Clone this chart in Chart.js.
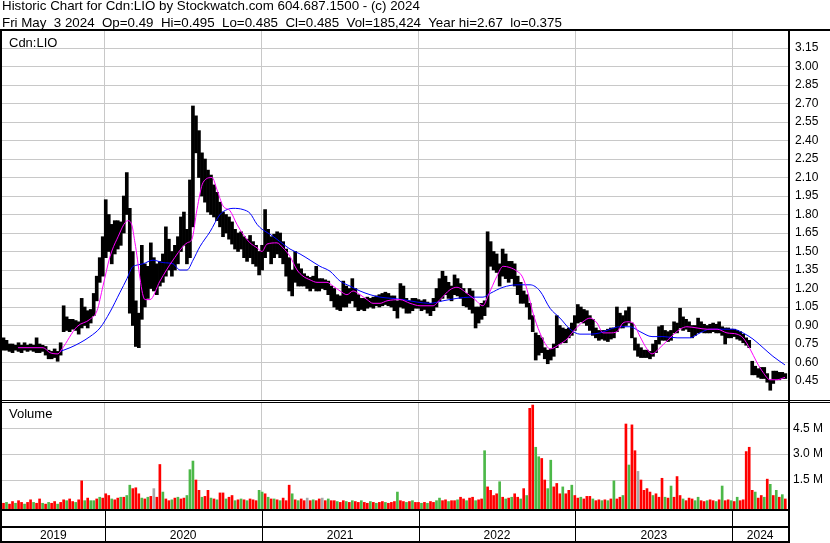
<!DOCTYPE html>
<html>
<head>
<meta charset="utf-8">
<script src="https://cdn.jsdelivr.net/npm/chart.js@4.4.1/dist/chart.umd.min.js"></script>
<style>
  body { margin: 0; background: #fff; font-family: "Liberation Sans", Arial, sans-serif; }
  #wrap { position: relative; width: 830px; height: 543px; overflow: hidden; }
  #chart { position: absolute; left: 0; top: 0; }
  #head { position: absolute; left: 2px; top: -2px; font-size: 13.33px; line-height: 16.5px; white-space: pre; color: #000; }
  .lbl { position: absolute; font-size: 13px; line-height: 13px; color: #000; }
</style>
</head>
<body>
<div id="wrap">
  <canvas id="chart" width="830" height="543"></canvas>
  <div id="head">Historic Chart for Cdn:LIO by Stockwatch.com 604.687.1500 - (c) 2024
Fri May  3 2024  Op=0.49  Hi=0.495  Lo=0.485  Cl=0.485  Vol=185,424  Year hi=2.67  lo=0.375</div>
  <div class="lbl" style="left:9px;top:35.5px">Cdn:LIO</div>
  <div class="lbl" style="left:9px;top:407px">Volume</div>
</div>
<script>
// weekly bars, first week starts early May 2019
const weekStart = 2019.355;
const weeksPerYear = 52.18;

const lows = [
  0.70,0.70,0.69,0.68,0.70,0.69,0.68,0.70,0.69,0.70,
  0.69,0.68,0.68,0.69,0.66,0.63,0.63,0.64,0.61,0.66,
  0.85,0.86,0.85,0.87,0.86,0.83,0.88,0.90,0.88,0.92,
  0.98,1.10,1.25,1.30,1.45,1.50,1.40,1.48,1.52,1.55,
  1.65,1.80,1.00,0.90,0.73,0.72,0.95,1.05,1.12,1.20,
  1.18,1.15,1.22,1.25,1.30,1.35,1.30,1.35,1.40,1.50,
  1.55,1.40,1.45,1.70,2.30,2.10,1.95,1.90,1.82,1.80,
  1.78,1.75,1.70,1.62,1.65,1.60,1.56,1.52,1.50,1.52,
  1.45,1.42,1.45,1.40,1.38,1.31,1.35,1.45,1.50,1.40,
  1.45,1.48,1.45,1.40,1.30,1.18,1.14,1.25,1.22,1.22,
  1.22,1.20,1.18,1.20,1.18,1.18,1.20,1.19,1.15,1.10,
  1.05,1.03,1.02,1.05,1.05,1.08,1.10,1.05,1.02,1.03,
  1.02,1.04,1.05,1.04,1.06,1.05,1.06,1.07,1.06,1.05,
  1.02,0.96,1.05,1.04,1.00,1.00,1.02,1.04,1.04,1.02,
  1.03,1.00,0.98,1.02,1.05,1.10,1.12,1.15,1.12,1.10,
  1.15,1.14,1.12,1.06,1.05,1.03,1.00,0.88,0.92,0.95,
  0.98,1.05,1.38,1.35,1.33,1.22,1.30,1.28,1.25,1.28,
  1.22,1.15,1.08,1.08,1.05,0.95,0.85,0.62,0.66,0.68,
  0.63,0.59,0.62,0.65,0.72,0.75,0.76,0.76,0.80,0.82,
  0.86,0.92,0.93,0.92,0.90,0.86,0.82,0.80,0.78,0.79,
  0.78,0.77,0.79,0.80,0.85,0.88,0.88,0.90,0.92,0.80,
  0.70,0.65,0.64,0.64,0.64,0.63,0.65,0.68,0.75,0.78,
  0.78,0.77,0.78,0.84,0.84,0.88,0.86,0.87,0.85,0.80,
  0.82,0.84,0.85,0.84,0.84,0.84,0.85,0.84,0.84,0.82,
  0.75,0.80,0.80,0.81,0.79,0.78,0.76,0.74,0.72,0.50,
  0.50,0.48,0.47,0.47,0.44,0.375,0.43,0.46,0.46,0.47,0.47
];
const highs = [
  0.80,0.78,0.75,0.75,0.74,0.76,0.74,0.76,0.74,0.75,
  0.74,0.80,0.75,0.74,0.73,0.70,0.69,0.71,0.69,0.76,
  1.06,0.97,0.95,0.95,0.94,0.93,1.12,1.05,1.02,1.03,
  1.16,1.30,1.45,1.62,1.92,1.80,1.72,1.75,1.75,1.74,
  1.95,2.14,1.85,1.50,1.10,1.00,1.55,1.40,1.38,1.57,
  1.45,1.40,1.42,1.48,1.70,1.60,1.50,1.55,1.62,1.78,
  1.82,1.68,2.08,2.68,2.60,2.48,2.30,2.25,2.16,2.12,
  2.04,1.98,1.90,1.82,1.80,1.78,1.74,1.68,1.65,1.66,
  1.62,1.60,1.63,1.58,1.55,1.50,1.55,1.84,1.68,1.62,
  1.64,1.66,1.65,1.58,1.52,1.45,1.35,1.50,1.40,1.36,
  1.32,1.30,1.29,1.30,1.38,1.28,1.28,1.27,1.26,1.22,
  1.20,1.15,1.14,1.26,1.22,1.20,1.28,1.20,1.15,1.12,
  1.12,1.13,1.12,1.13,1.14,1.15,1.16,1.17,1.16,1.14,
  1.14,1.10,1.24,1.22,1.12,1.10,1.12,1.12,1.11,1.10,
  1.11,1.09,1.08,1.12,1.20,1.28,1.34,1.30,1.25,1.22,
  1.31,1.28,1.24,1.20,1.16,1.20,1.18,1.05,1.05,1.08,
  1.10,1.66,1.58,1.50,1.48,1.40,1.52,1.48,1.42,1.42,
  1.40,1.30,1.25,1.18,1.15,1.08,0.98,0.84,0.82,0.80,
  0.72,0.70,0.71,0.75,0.98,0.90,0.88,0.87,0.88,0.92,
  0.98,1.07,1.05,1.03,1.02,0.98,0.95,0.88,0.86,0.86,
  0.86,0.87,0.88,0.88,1.05,1.00,0.98,1.02,1.05,0.92,
  0.80,0.75,0.72,0.70,0.70,0.69,0.75,0.78,0.89,0.90,
  0.86,0.85,0.86,0.93,0.92,1.04,0.97,0.95,0.93,0.90,
  0.90,0.96,0.93,0.91,0.90,0.91,0.92,0.91,0.93,0.89,
  0.88,0.88,0.87,0.87,0.86,0.85,0.83,0.80,0.78,0.61,
  0.57,0.55,0.56,0.56,0.51,0.46,0.53,0.53,0.52,0.52,0.51
];
// volume in millions of shares, one bar per week
const volumes = [
  0.15,0.2,0.1,0.25,0.15,0.3,0.2,0.1,0.2,0.35,
  0.2,0.15,0.4,0.15,0.1,0.2,0.15,0.25,0.1,0.2,
  0.35,0.3,0.4,0.25,0.2,0.35,1.45,0.3,0.45,0.3,
  0.3,0.4,0.5,0.45,0.7,0.6,0.4,0.35,0.45,0.5,
  0.5,0.6,1.2,1.0,1.05,0.7,0.45,0.4,0.5,0.55,
  1.0,0.5,2.4,0.8,0.4,0.3,0.35,0.45,0.5,0.4,
  0.45,0.6,2.1,2.6,1.5,0.9,0.5,0.55,0.9,0.45,
  0.4,0.35,0.75,0.75,0.4,0.5,0.6,0.3,0.35,0.4,
  0.35,0.3,0.4,0.35,0.3,0.9,0.8,0.7,0.5,0.4,
  0.4,0.35,0.3,0.45,0.3,1.2,0.7,0.35,0.3,0.4,
  0.3,0.45,0.3,0.35,0.3,0.4,0.45,0.3,0.4,0.3,
  0.3,0.25,0.2,0.3,0.25,0.2,0.3,0.25,0.2,0.3,
  0.2,0.15,0.25,0.2,0.15,0.2,0.25,0.2,0.15,0.2,
  0.25,0.8,0.3,0.25,0.2,0.25,0.3,0.2,0.2,0.15,
  0.2,0.15,0.25,0.2,0.3,0.45,0.3,0.35,0.25,0.3,
  0.3,0.35,0.5,0.4,0.3,0.45,0.5,0.3,0.35,0.4,
  3.2,1.1,0.9,0.6,0.7,1.4,0.5,0.4,0.45,0.5,
  0.7,0.5,0.4,1.0,0.6,5.66,5.85,3.4,2.85,2.75,
  1.5,1.0,2.65,1.1,1.3,0.7,1.1,0.7,0.9,1.2,
  0.6,0.45,0.5,0.4,0.55,0.55,0.4,0.3,0.35,0.3,
  0.35,0.3,0.4,1.45,0.4,0.5,0.6,4.75,2.37,4.7,
  3.2,2.0,1.5,0.9,1.0,0.8,0.6,0.7,0.5,1.6,
  0.5,0.45,1.15,0.5,1.7,0.6,0.4,0.3,0.45,0.4,
  0.3,0.5,0.3,0.25,0.3,0.35,0.3,0.25,0.35,1.15,
  0.3,0.35,0.3,0.25,0.5,0.3,0.35,3.15,3.4,0.9,
  0.8,0.45,0.6,0.5,1.55,1.25,0.6,0.9,0.5,0.65,0.4
];
// r = down day, g = up day, n = unchanged
const volDirection =
  'rgrrgrrgrr' + 'grrgrgrrgr' + 'rgrrgrrgrg' + 'grgrrrgrrg' + 'rggrrrgrgr' +
  'nrrgrrgrgr' + 'rgggrrgrrg' + 'rgrrgrrgrg' + 'rgrrrggrgr' + 'grgrrrgrgr' +
  'rnrgrrnrgr' + 'rgrrgrgrrg' + 'rrgrgrrgrr' + 'rgrrgrgrrg' + 'rgrrggrrgr' +
  'rgrrgrrgrr' + 'grrrrgrgrg' + 'rrgrgrrggr' + 'rggrrrgrrg' + 'rrgrrrgrrg' +
  'rgrgrrgrgr' + 'rnrrrrgrrr' + 'grgrrrgrrr' + 'ggrrgrrgrg' + 'rrgrgrrrrr' +
  'grrgrgrgrgr';

// moving averages: dates (years) and values
const maShortDates = [
  2019.447,2019.607,2019.651,2019.702,2019.728,2019.823,2019.906,2019.951,2019.989,2020.034,
  2020.078,2020.148,2020.174,2020.193,2020.257,2020.289,2020.352,2020.435,2020.525,2020.556,
  2020.588,2020.627,2020.684,2020.716,2020.754,2020.799,2020.843,2020.882,2020.926,2020.971,
  2021.003,2021.034,2021.098,2021.136,2021.181,2021.226,2021.264,2021.309,2021.353,2021.417,
  2021.455,2021.500,2021.544,2021.583,2021.627,2021.672,2021.710,2021.755,2021.799,2021.882,
  2021.946,2022.010,2022.092,2022.137,2022.201,2022.245,2022.309,2022.360,2022.411,2022.443,
  2022.500,2022.539,2022.583,2022.628,2022.660,2022.692,2022.730,2022.774,2022.819,2022.838,
  2022.902,2022.946,2022.985,2023.048,2023.093,2023.138,2023.176,2023.221,2023.265,2023.303,
  2023.335,2023.367,2023.412,2023.456,2023.488,2023.539,2023.603,2023.667,2023.711,2023.775,
  2023.839,2023.903,2023.966,2024.030,2024.068,2024.113,2024.157,2024.196,2024.240,2024.285,
  2024.336
];
const maShort = [
  0.72,0.72,0.68,0.67,0.71,0.89,0.95,1.02,1.22,1.46,
  1.60,1.75,1.71,1.57,1.11,1.11,1.26,1.43,1.57,1.60,
  1.84,2.06,2.10,2.00,1.87,1.83,1.72,1.64,1.57,1.53,
  1.50,1.56,1.57,1.53,1.46,1.35,1.30,1.27,1.25,1.25,
  1.22,1.18,1.15,1.18,1.15,1.11,1.08,1.08,1.10,1.11,
  1.08,1.06,1.06,1.11,1.19,1.21,1.16,1.11,1.06,1.14,
  1.30,1.38,1.37,1.34,1.30,1.19,1.00,0.84,0.73,0.71,
  0.75,0.79,0.85,0.93,0.96,0.92,0.84,0.84,0.85,0.92,
  0.93,0.92,0.81,0.71,0.67,0.72,0.80,0.87,0.89,0.88,
  0.87,0.87,0.84,0.83,0.80,0.71,0.60,0.52,0.46,0.46,
  0.48
];
const maLongDates = [
  2019.715,2019.779,2019.843,2019.906,2019.970,2020.034,2020.098,2020.142,2020.174,2020.206,
  2020.244,2020.308,2020.372,2020.435,2020.480,2020.525,2020.563,2020.607,2020.671,2020.735,
  2020.780,2020.818,2020.882,2020.926,2020.971,2021.003,2021.054,2021.117,2021.181,2021.245,
  2021.309,2021.372,2021.436,2021.500,2021.563,2021.627,2021.691,2021.755,2021.831,2021.901,
  2021.990,2022.073,2022.156,2022.245,2022.328,2022.411,2022.456,2022.539,2022.628,2022.711,
  2022.774,2022.838,2022.902,2022.966,2023.029,2023.093,2023.157,2023.221,2023.284,2023.348,
  2023.412,2023.488,2023.558,2023.648,2023.730,2023.794,2023.858,2023.941,2024.005,2024.068,
  2024.132,2024.196,2024.259,2024.336
];
const maLong = [
  0.69,0.72,0.76,0.81,0.88,1.01,1.17,1.28,1.37,1.39,
  1.40,1.43,1.41,1.40,1.35,1.35,1.43,1.54,1.66,1.80,
  1.84,1.85,1.84,1.81,1.72,1.68,1.64,1.58,1.52,1.48,
  1.43,1.38,1.34,1.26,1.22,1.18,1.15,1.13,1.12,1.11,
  1.09,1.08,1.10,1.12,1.13,1.13,1.16,1.21,1.23,1.23,
  1.18,1.04,0.96,0.87,0.83,0.83,0.84,0.87,0.89,0.89,
  0.85,0.81,0.81,0.80,0.80,0.84,0.87,0.87,0.87,0.84,
  0.79,0.72,0.65,0.58
];

const priceTicks = [0.45,0.60,0.75,0.90,1.05,1.20,1.35,1.50,1.65,1.80,1.95,2.10,2.25,2.40,2.55,2.70,2.85,3.00,3.15];
const volTicks = [1.5, 3.0, 4.5];
const yearBounds = [2020, 2021, 2022, 2023, 2024];
const firstYear = 2019, lastYear = 2024;

const xMin = 2019.3454, xMax = 2024.355;
const volBase = -0.183;

const barColor = { r: '#ff0000', g: '#4cb848', n: '#a8a8a8' };
const weekDate = i => weekStart + i / weeksPerYear;

const priceBars = lows.map((lo, i) => ({ x: weekDate(i), y: [lo, highs[i]] }));
const volBars = volumes.map((v, i) => ({ x: weekDate(i), y: v }));
const volColors = volumes.map((v, i) => barColor[volDirection[i]]);
const shortPts = maShort.map((v, i) => ({ x: maShortDates[i], y: v }));
const longPts = maLong.map((v, i) => ({ x: maLongDates[i], y: v }));

// year label positions: centre of the visible part of each year
const yearMids = [];
for (let y = firstYear; y <= lastYear; y++) {
  yearMids.push((Math.max(xMin, y) + Math.min(xMax, y + 1)) / 2);
}

Chart.defaults.font.family = '"Liberation Sans", Arial, sans-serif';
Chart.defaults.color = '#000';

const gridGray = '#c8c8c8';

// black frame lines, double separator and year dividers
const frame = {
  id: 'frame',
  afterDraw(chart) {
    const c = chart.ctx;
    const a = chart.chartArea;
    const xs = chart.scales.x;
    const yP = chart.scales.yP;
    const W = chart.width, H = chart.height;
    c.save();
    c.fillStyle = '#fff';
    c.fillRect(0, yP.bottom - 1, W, 1);
    c.fillStyle = '#000';
    c.fillRect(0, a.top - 2, W, 2);
    c.fillRect(0, a.top - 1, 2, H - a.top + 1);
    c.fillRect(a.right, a.top - 1, 2, H - a.top + 1);
    c.fillRect(0, yP.bottom - 2, W, 1);
    c.fillRect(0, yP.bottom, W, 1);
    c.fillRect(0, a.bottom, a.right, 2);
    c.fillRect(0, a.bottom + 17, a.right, 2);
    c.fillRect(0, H - 2, a.right, 2);
    yearBounds.forEach(y => {
      const px = Math.round(xs.getPixelForValue(y));
      c.fillRect(px, a.bottom, 1, H - a.bottom);
    });
    c.restore();
  }
};

new Chart(document.getElementById('chart'), {
  data: {
    datasets: [
      { type: 'line', data: shortPts, yAxisID: 'yP', borderColor: '#ff00ff', borderWidth: 1,
        pointRadius: 0, cubicInterpolationMode: 'monotone', order: 0 },
      { type: 'line', data: longPts, yAxisID: 'yP', borderColor: '#0000ff', borderWidth: 1,
        pointRadius: 0, cubicInterpolationMode: 'monotone', order: 1 },
      { type: 'bar', data: priceBars, yAxisID: 'yP', backgroundColor: '#000',
        barThickness: 3, grouped: false, order: 2 },
      { type: 'bar', data: volBars, yAxisID: 'yV', backgroundColor: volColors,
        barThickness: 2, grouped: false, base: volBase, order: 3 }
    ]
  },
  options: {
    responsive: false,
    animation: false,
    devicePixelRatio: 1,
    layout: { padding: { top: 31, left: 2, right: 0, bottom: 0 } },
    plugins: { legend: { display: false }, tooltip: { enabled: false } },
    scales: {
      x: {
        type: 'linear', min: xMin, max: xMax, offset: false,
        afterBuildTicks: s => {
          s.ticks = yearBounds.concat(yearMids).sort((p, q) => p - q).map(v => ({ value: v }));
        },
        afterFit: s => { s.height = 34; },
        grid: {
          offset: false,
          color: ctx => (ctx.tick && Number.isInteger(ctx.tick.value)) ? gridGray : 'rgba(0,0,0,0)',
          drawTicks: false
        },
        border: { display: false },
        ticks: {
          autoSkip: false, maxRotation: 0, padding: 19,
          font: { size: 12 },
          callback: v => Number.isInteger(v) ? '' : String(Math.floor(v))
        }
      },
      yP: {
        type: 'linear', position: 'right', stack: 'panels', stackWeight: 371,
        min: 0.2797, max: 3.288,
        afterBuildTicks: s => { s.ticks = priceTicks.map(v => ({ value: v })); },
        afterFit: s => { s.width = 42; },
        grid: { color: gridGray, drawTicks: false },
        border: { display: false },
        ticks: { autoSkip: false, padding: 7, font: { size: 12 }, callback: v => v.toFixed(2) }
      },
      yV: {
        type: 'linear', position: 'right', stack: 'panels', stackWeight: 107,
        min: volBase, max: 6.027,
        afterBuildTicks: s => { s.ticks = volTicks.map(v => ({ value: v })); },
        afterFit: s => { s.width = 42; },
        grid: { color: gridGray, drawTicks: false },
        border: { display: false },
        ticks: { autoSkip: false, padding: 5, font: { size: 12 }, callback: v => v.toFixed(1) + ' M' }
      }
    }
  },
  plugins: [frame]
});
</script>
</body>
</html>
